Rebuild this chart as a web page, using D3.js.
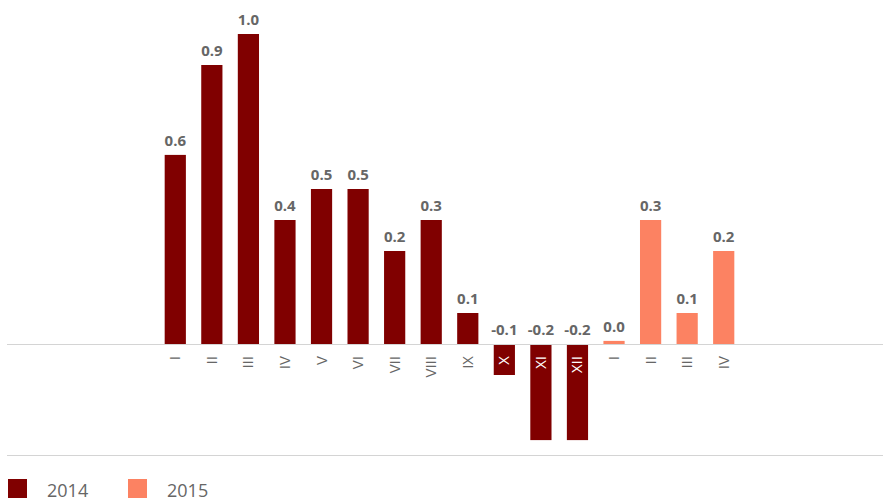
<!DOCTYPE html>
<html>
<head>
<meta charset="utf-8">
<script src="https://cdn.jsdelivr.net/npm/d3@7"></script>
<style>
  body { margin: 0; background: #fff; }
  text { font-family: "Open Sans", "Noto Sans", sans-serif; }
</style>
</head>
<body>
<div id="chart"></div>
<script>
var svgWidth = 883;
var svgHeight = 502;

// months (2014: I-XII, 2015: I-IV)
var months = ["I", "II", "III", "IV", "V", "VI", "VII", "VIII", "IX", "X", "XI", "XII", "I", "II", "III", "IV"];
var years = ["2014", "2014", "2014", "2014", "2014", "2014", "2014", "2014", "2014", "2014", "2014", "2014", "2015", "2015", "2015", "2015"];
// bar heights
var values = [0.61, 0.9, 1.0, 0.4, 0.5, 0.5, 0.3, 0.4, 0.1, -0.1, -0.31, -0.31, 0.01, 0.4, 0.1, 0.3];
// labels printed above the bars
var labels = ["0.6", "0.9", "1.0", "0.4", "0.5", "0.5", "0.2", "0.3", "0.1", "-0.1", "-0.2", "-0.2", "0.0", "0.3", "0.1", "0.2"];
var legendYears = ["2014", "2015"];

var colors = { "2014": "#800000", "2015": "#fc8262" };

var data = months.map(function(m, i) {
  return { key: i, month: m, year: years[i], value: values[i], label: labels[i] };
});

var svg = d3.select("#chart")
  .append("svg")
  .attr("width", svgWidth)
  .attr("height", svgHeight);

var xScale = d3.scaleBand()
  .domain(data.map(d => d.key))
  .range([157, 742])
  .paddingInner(0.42)
  .paddingOuter(0.21);

var yScale = d3.scaleLinear()
  .domain([0, 1])
  .range([344, 34]);

// bars
svg.append("g")
  .selectAll("rect")
  .data(data)
  .enter()
  .append("rect")
  .attr("x", d => xScale(d.key))
  .attr("width", xScale.bandwidth())
  .attr("y", d => yScale(Math.max(0, d.value)))
  .attr("height", d => Math.abs(yScale(d.value) - yScale(0)))
  .attr("fill", d => colors[d.year]);

// zero line
svg.append("line")
  .attr("x1", 7)
  .attr("x2", 883)
  .attr("y1", yScale(0) + 0.5)
  .attr("y2", yScale(0) + 0.5)
  .attr("stroke", "#d4d4d4")
  .attr("stroke-width", 1);

// value labels
svg.append("g")
  .selectAll("text")
  .data(data)
  .enter()
  .append("text")
  .attr("x", d => xScale(d.key) + xScale.bandwidth() / 2)
  .attr("y", d => yScale(Math.max(0, d.value)) - 9)
  .attr("text-anchor", "middle")
  .attr("font-size", 15)
  .attr("font-weight", "bold")
  .attr("fill", "#666")
  .text(d => d.label);

// month labels, rotated
svg.append("g")
  .selectAll("text")
  .data(data)
  .enter()
  .append("text")
  .attr("transform", d => `translate(${xScale(d.key) + xScale.bandwidth() / 2 + 5}, 356) rotate(-90)`)
  .attr("text-anchor", "end")
  .attr("font-size", 15)
  .attr("fill", d => d.value < -0.05 ? "#fff" : "#666")
  .text(d => d.month);

// bottom line
svg.append("line")
  .attr("x1", 7)
  .attr("x2", 883)
  .attr("y1", 455.5)
  .attr("y2", 455.5)
  .attr("stroke", "#d4d4d4")
  .attr("stroke-width", 1);

// legend
var legend = svg.append("g")
  .selectAll("g")
  .data(legendYears)
  .enter()
  .append("g")
  .attr("transform", (d, i) => `translate(${8 + i * 120}, 479)`);

legend.append("rect")
  .attr("width", 19)
  .attr("height", 19)
  .attr("fill", d => colors[d]);

legend.append("text")
  .attr("x", 39)
  .attr("y", 18)
  .attr("font-size", 18)
  .attr("fill", "#666")
  .text(d => d);
</script>
</body>
</html>
